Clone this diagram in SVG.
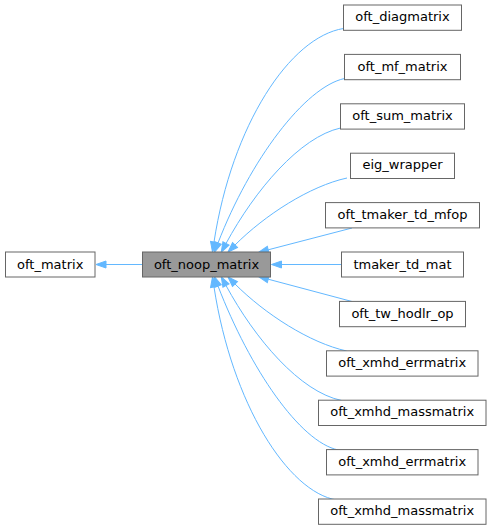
<svg xmlns="http://www.w3.org/2000/svg" width="492" height="529" viewBox="0 0 492 529">
<style>
.n rect{fill:#ffffff;stroke:#666666;stroke-width:1}
.cur rect{fill:#999999;stroke:#666666;stroke-width:1}
.n text,.cur text{font-family:"DejaVu Sans","Liberation Sans",sans-serif;font-size:13px;fill:#000000;text-anchor:middle}
.e path{fill:none;stroke:#63b8ff;stroke-width:1;marker-end:url(#ah)}
</style>
<defs>
<marker id="ah" markerUnits="userSpaceOnUse" markerWidth="12" markerHeight="10" refX="0" refY="0" viewBox="0 -5 12 10" orient="auto" overflow="visible">
<path d="M0,-3.5 L10,0 L0,3.5 Z" fill="#63b8ff" stroke="#63b8ff" stroke-width="1"/>
</marker>
</defs>
<rect width="492" height="529" fill="#ffffff"/>
<g id="edges" class="e">
<path d="M142.5,264.5 L106,264.5"/>
<path d="M343.5,28.5 C290,37 232,125 214,242"/>
<path d="M344.5,78.5 C305,87 250,160 218,243"/>
<path d="M340.5,128 C300,137 255,190 226,243.5"/>
<path d="M347,178 C310,186 265,215 235,245"/>
<path d="M352,228 L268.2,249.8"/>
<path d="M341.5,264.5 L281.5,264.5"/>
<path d="M352,301.5 L268.2,279.2"/>
<path d="M346.7,351 C310,343 265,314 235,284"/>
<path d="M341.7,400.5 C300,392 255,339 226,285.5"/>
<path d="M338.3,450 C300,442 250,369 218,286"/>
<path d="M336.7,500 C288,492 232,404 214,287"/>
</g>
<g id="oft_matrix" class="n"><rect x="5.5" y="252" width="89.5" height="25"/><text x="50.2" y="268.5">oft_matrix</text></g>
<g id="oft_noop_matrix" class="cur"><rect x="142.5" y="252" width="128" height="25"/><text x="206.5" y="268.5">oft_noop_matrix</text></g>
<g id="oft_diagmatrix" class="n"><rect x="343.5" y="5" width="118" height="25.3"/><text x="402.5" y="21.2">oft_diagmatrix</text></g>
<g id="oft_mf_matrix" class="n"><rect x="344.5" y="54.4" width="116" height="25.3"/><text x="402.5" y="70.6">oft_mf_matrix</text></g>
<g id="oft_sum_matrix" class="n"><rect x="340.5" y="103.8" width="124" height="25.3"/><text x="402.5" y="120">oft_sum_matrix</text></g>
<g id="eig_wrapper" class="n"><rect x="350.5" y="153.2" width="104" height="25.3"/><text x="402.5" y="169.4">eig_wrapper</text></g>
<g id="oft_tmaker_td_mfop" class="n"><rect x="325.5" y="202.6" width="154" height="25.3"/><text x="402.5" y="218.8">oft_tmaker_td_mfop</text></g>
<g id="tmaker_td_mat" class="n"><rect x="341.5" y="252" width="122" height="25"/><text x="402.5" y="268.5">tmaker_td_mat</text></g>
<g id="oft_tw_hodlr_op" class="n"><rect x="339.5" y="301.4" width="126" height="25.3"/><text x="402.5" y="317.6">oft_tw_hodlr_op</text></g>
<g id="oft_xmhd_errmatrix" class="n"><rect x="326.5" y="350.8" width="151.5" height="25.3"/><text x="402.2" y="367">oft_xmhd_errmatrix</text></g>
<g id="oft_xmhd_massmatrix" class="n"><rect x="318.5" y="400.2" width="167.5" height="25.3"/><text x="402.2" y="416.4">oft_xmhd_massmatrix</text></g>
<g id="oft_xmhd_errmatrix_2" class="n"><rect x="326.5" y="449.6" width="151.5" height="25.3"/><text x="402.2" y="465.8">oft_xmhd_errmatrix</text></g>
<g id="oft_xmhd_massmatrix_2" class="n"><rect x="318.5" y="499" width="167.5" height="25.3"/><text x="402.2" y="515.2">oft_xmhd_massmatrix</text></g>
</svg>
